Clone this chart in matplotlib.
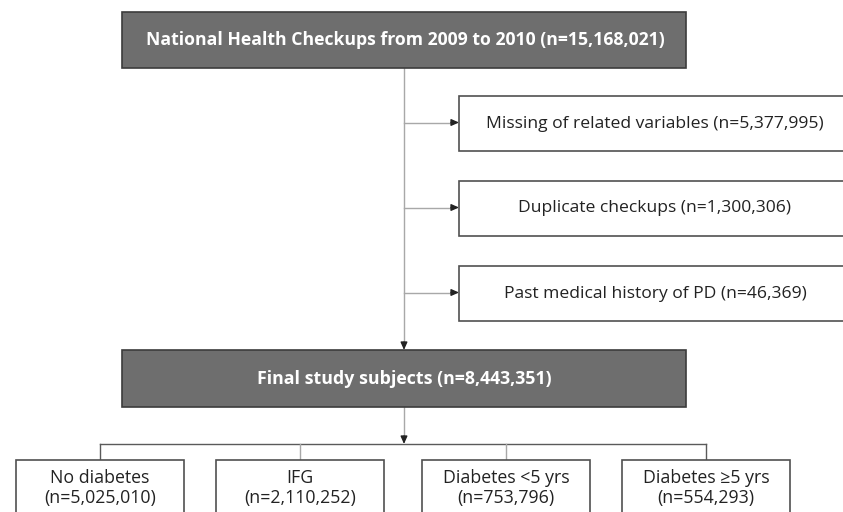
import matplotlib.pyplot as plt
from matplotlib.patches import Rectangle

# flowchart content
top_label = "National Health Checkups from 2009 to 2010 (n=15,168,021)"
excl_labels = [
    "Missing of related variables (n=5,377,995)",
    "Duplicate checkups (n=1,300,306)",
    "Past medical history of PD (n=46,369)",
]
final_label = "Final study subjects (n=8,443,351)"
group_names = ["No diabetes", "IFG", "Diabetes <5 yrs", "Diabetes \u22655 yrs"]
group_counts = ["(n=5,025,010)", "(n=2,110,252)", "(n=753,796)", "(n=554,293)"]

# layout in pixel units (y goes down)
W, H = 843, 512
main_x0, main_x1 = 122, 686
top_y0, top_y1 = 12, 68
final_y0, final_y1 = 350, 407
spine_x = 404
excl_x0, excl_x1 = 459, 853
excl_tops = [96, 181, 266]
excl_h = 55
grp_lefts = [16, 216, 422, 622]
grp_w = 168
grp_y0 = 460
branch_y = 444

dark_fill = "#6e6e6e"
dark_edge = "#3c3c3c"
box_edge = "#505050"
line_col = "#a8a8a8"

plt.rcParams['font.family'] = ['Open Sans', 'DejaVu Sans']

fig = plt.figure(figsize=(W / 100, H / 100), dpi=100)
ax = fig.add_axes([0, 0, 1, 1])
ax.set_xlim(0, W)
ax.set_ylim(H, 0)
ax.axis('off')


def box(x0, y0, x1, y1, fill, edge, lw=1.2):
    ax.add_patch(Rectangle((x0, y0), x1 - x0, y1 - y0, facecolor=fill,
                           edgecolor=edge, linewidth=lw, zorder=3))


def arrow(x0, y0, x1, y1, col):
    ax.annotate("", xy=(x1, y1), xytext=(x0, y0),
                arrowprops=dict(arrowstyle="-|>,head_length=0.45,head_width=0.2",
                                color=col, lw=1.0, shrinkA=0, shrinkB=0,
                                mutation_scale=10), zorder=2)


# top box
box(main_x0, top_y0, main_x1, top_y1, dark_fill, dark_edge)
ax.text((main_x0 + main_x1) / 2 + 1, (top_y0 + top_y1) / 2, top_label,
        color="white", fontsize=12.7, fontweight="bold",
        ha="center", va="center", zorder=4)

# spine down to final box
ax.plot([spine_x, spine_x], [top_y1, final_y0 - 6], color=line_col, lw=1.0, zorder=1)
arrow(spine_x, final_y0 - 8, spine_x, final_y0, "#222222")

# exclusion boxes
for top, lab in zip(excl_tops, excl_labels):
    box(excl_x0, top, excl_x1, top + excl_h, "white", box_edge)
    mid = top + excl_h / 2 - 1
    ax.plot([spine_x, excl_x0 - 6], [mid, mid], color=line_col, lw=1.0, zorder=1)
    arrow(excl_x0 - 8, mid, excl_x0, mid, "#222222")
    ax.text(655, mid + 1, lab, color="#222222",
            fontsize=12.6, ha="center", va="center", zorder=4)

# final box
box(main_x0, final_y0, main_x1, final_y1, dark_fill, dark_edge)
ax.text((main_x0 + main_x1) / 2, (final_y0 + final_y1) / 2, final_label,
        color="white", fontsize=12.8, fontweight="bold",
        ha="center", va="center", zorder=4)

# down to branch
ax.plot([spine_x, spine_x], [final_y1, branch_y - 6], color=line_col, lw=1.0, zorder=1)
arrow(spine_x, branch_y - 8, spine_x, branch_y, "#222222")

# branch line and group boxes
centers = [l + grp_w / 2 for l in grp_lefts]
ax.plot([centers[0], centers[-1]], [branch_y, branch_y], color="#5a5a5a", lw=1.0, zorder=1)
for i, (l, c, name, cnt) in enumerate(zip(grp_lefts, centers, group_names, group_counts)):
    vcol = "#5a5a5a" if i in (0, 3) else line_col
    ax.plot([c, c], [branch_y, grp_y0], color=vcol, lw=1.0, zorder=1)
    box(l, grp_y0, l + grp_w, H + 20, "white", box_edge)
    ax.text(c, 478, name, color="#222222", fontsize=12.8, ha="center", va="center", zorder=4)
    ax.text(c, 498, cnt, color="#222222", fontsize=12.8, ha="center", va="center", zorder=4)

fig.savefig("out.png", dpi=100, facecolor="white")
